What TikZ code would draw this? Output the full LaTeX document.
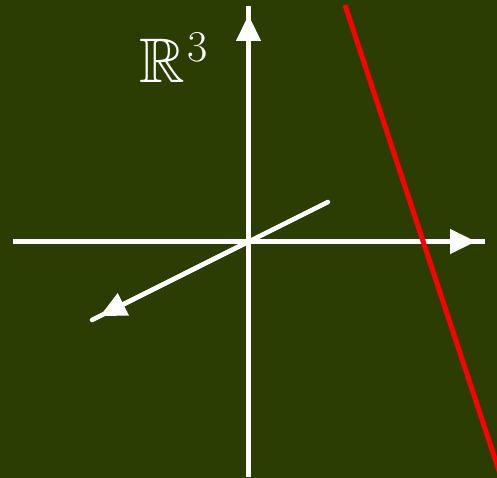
\documentclass[tikz,border=0pt]{standalone}
\usepackage{amssymb}
\usetikzlibrary{arrows.meta}
\definecolor{bg}{RGB}{43,61,3}
\begin{document}
\begin{tikzpicture}[x=1pt,y=-1pt,
  axis/.style={white,line width=4.5pt},
  axtip/.style={white,line width=4.5pt,-{Triangle[length=26pt,width=24pt]}},
  redline/.style={red,line width=5pt}]
\fill[bg] (0,0) rectangle (497,478);
\useasboundingbox (0,0) rectangle (497,478);
\coordinate (o) at (248.5,241.5);
\coordinate (top) at (248.5,6);
\coordinate (toptip) at (248.5,15);
\coordinate (bot) at (248.5,477);
\coordinate (left) at (13,241.5);
\coordinate (right) at (485,241.5);
\coordinate (righttip) at (476,241.5);
\coordinate (dup) at (328,202);
\coordinate (ddown) at (92,320);
\coordinate (ddowntip) at (100.1,316);
\coordinate (ra) at (345,5);
\coordinate (rb) at (502,480);
% axes
\draw[axis] (bot) -- (top);
\draw[axtip] (o) -- (toptip);
\draw[axis] (left) -- (right);
\draw[axtip] (o) -- (righttip);
\draw[axis,line cap=round] (dup) -- (ddown);
\draw[axtip] (o) -- (ddowntip);
% red line
\begin{scope}
\clip (0,0) rectangle (497,478);
\draw[redline] (ra) -- (rb);
\end{scope}
\node[white,anchor=base west,inner sep=0pt,font=\fontsize{63}{70}\selectfont] (lab) at (139,83) {$\mathbb{R}$};
\node[white,anchor=base west,inner sep=0pt,font=\fontsize{44}{50}\selectfont] (exp) at (187,62) {3};
\end{tikzpicture}
\end{document}
